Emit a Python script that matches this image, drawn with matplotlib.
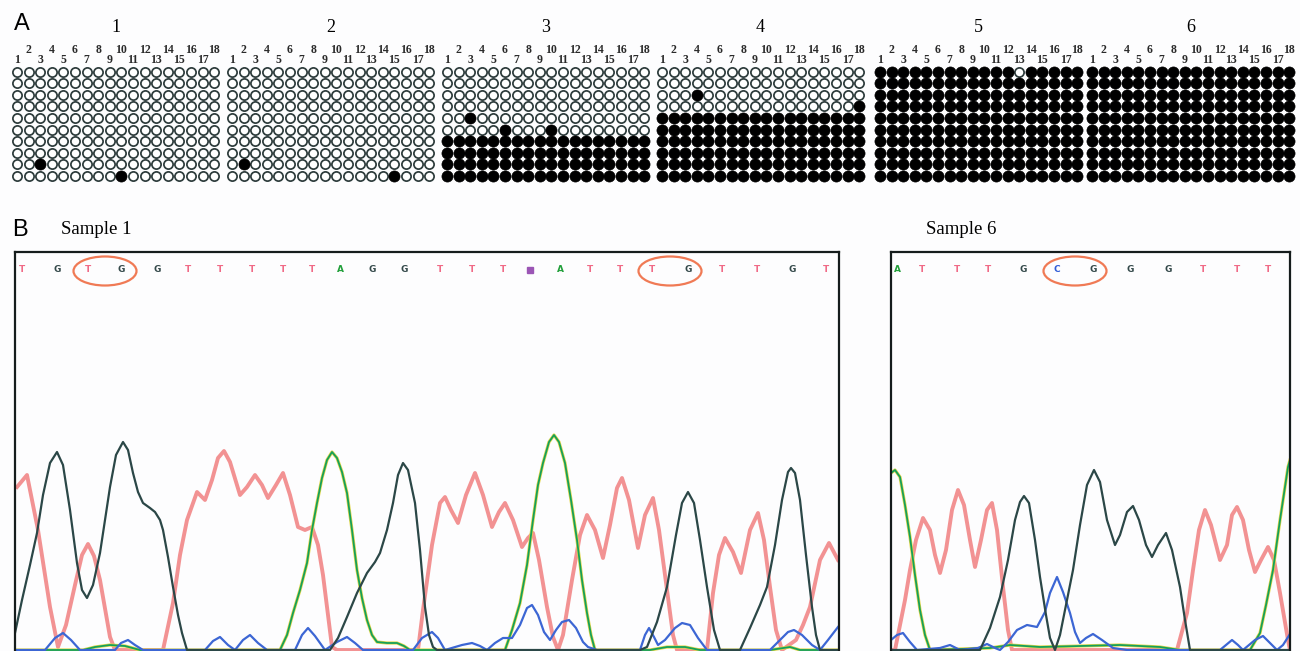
import numpy as np
import matplotlib
matplotlib.use("Agg")
import matplotlib.pyplot as plt
from matplotlib.patches import Ellipse

# ---- panel A: bisulfite clones, 10 clones x 18 CpG sites (1 = methylated)
sample_names = ["1", "2", "3", "4", "5", "6"]
cpg_sites = list(range(1, 19))
empty = "000000000000000000"
full = "111111111111111111"
meth = [
    [empty] * 8 + ["001000000000000000", "000000000100000000"],
    [empty] * 8 + ["010000000000000000", "000000000000001000"],
    [empty] * 4 + ["001000000000000000", "000001000100000000"] + [full] * 4,
    [empty] * 2 + ["000100000000000000", "000000000000000001"] + [full] * 6,
    ["111111111111011111"] + [full] * 9,
    [full] * 10,
]

# ---- panel B: sequencing traces, (scan position, signal)
s1_bases = "TGTGGTTTTTAGGTTTNATTTGTTGT"
s1_pos = [22, 57, 88, 121, 157, 188, 220, 252, 283, 312, 340, 372, 404,
          440, 472, 503, 530, 560, 590, 620, 652, 688, 722, 757, 792, 826]
s1_marked = [105, 670]

s6_bases = "ATTTGCGGGTTT"
s6_pos = [897, 922, 957, 988, 1023, 1057, 1093, 1130, 1168, 1203, 1237, 1268]
s6_marked = [1075]

s1_T = [(17, 163), (27, 175), (38, 120), (50, 43), (58, 3), (66, 25), (75, 65), (82, 95),
        (88, 106), (94, 94), (100, 70), (110, 13), (115, 0), (163, 0), (173, 47), (180, 95),
        (187, 130), (197, 158), (205, 150), (212, 170), (218, 192), (224, 199), (230, 188),
        (240, 155), (247, 163), (255, 175), (262, 165), (268, 152), (276, 165), (283, 177),
        (290, 155), (298, 123), (305, 120), (312, 123), (318, 105), (323, 75), (328, 35),
        (332, 3), (337, 0), (418, 0), (423, 40), (432, 105), (440, 147), (445, 153),
        (451, 140), (458, 127), (466, 155), (475, 177), (483, 155), (492, 123), (499, 138),
        (505, 147), (513, 130), (522, 103), (528, 112), (533, 117), (539, 90), (547, 43),
        (553, 13), (558, 0), (563, 15), (572, 70), (580, 115), (587, 135), (595, 120),
        (603, 92), (610, 125), (617, 162), (622, 172), (629, 150), (638, 102), (645, 135),
        (653, 152), (659, 120), (667, 60), (673, 15), (677, 0), (707, 0), (713, 57),
        (719, 95), (725, 112), (733, 98), (741, 77), (750, 120), (758, 137), (764, 110),
        (770, 63), (776, 20), (782, 0), (796, 10), (803, 25), (810, 43), (820, 90),
        (829, 107), (838, 90)]
s1_G = [(15, 17), (22, 50), (30, 85), (37, 117), (43, 155), (50, 187), (57, 198), (63, 185),
        (70, 140), (77, 87), (82, 60), (87, 52), (93, 65), (100, 97), (105, 130), (110, 163),
        (116, 195), (123, 208), (128, 200), (133, 177), (138, 158), (143, 147), (150, 142),
        (155, 138), (160, 130), (163, 120), (168, 93), (173, 63), (178, 35), (182, 17),
        (187, 0), (330, 0), (338, 12), (347, 33), (357, 57), (367, 77), (375, 88), (380, 97),
        (387, 120), (393, 147), (398, 175), (403, 187), (408, 180), (415, 147), (420, 100),
        (425, 43), (429, 15), (433, 3), (437, 0), (640, 0), (647, 3), (657, 28), (667, 63),
        (676, 115), (682, 147), (688, 158), (694, 147), (700, 110), (707, 63), (714, 20),
        (720, 0), (740, 0), (750, 22), (760, 45), (767, 63), (775, 105), (782, 150),
        (788, 178), (791, 182), (795, 177), (800, 150), (806, 95), (812, 43), (816, 15),
        (820, 0), (838, 0)]
s1_A = [(15, 0), (83, 0), (95, 3), (110, 5), (125, 4), (140, 0), (280, 0), (287, 15),
        (293, 37), (300, 60), (307, 87), (312, 120), (317, 147), (322, 172), (327, 190),
        (332, 198), (337, 192), (342, 178), (347, 157), (352, 120), (357, 80), (362, 52),
        (367, 30), (372, 15), (377, 8), (387, 7), (397, 7), (404, 4), (410, 0), (505, 0),
        (512, 20), (520, 47), (527, 85), (533, 130), (538, 165), (543, 187), (549, 208),
        (554, 215), (559, 208), (565, 187), (571, 150), (577, 110), (582, 70), (587, 37),
        (591, 15), (595, 0), (650, 0), (667, 3), (685, 3), (700, 0), (770, 0), (790, 3),
        (800, 0), (838, 0)]
s1_C = [(15, 0), (45, 0), (55, 12), (63, 17), (71, 10), (80, 0), (115, 0), (121, 7), (128, 10),
        (135, 5), (143, 0), (205, 0), (213, 9), (220, 13), (228, 5), (235, 0), (243, 10),
        (250, 15), (258, 7), (267, 0), (295, 0), (302, 15), (308, 22), (315, 14), (325, 0),
        (337, 8), (347, 13), (355, 7), (363, 0), (413, 0), (422, 12), (432, 18), (438, 12),
        (445, 0), (462, 5), (472, 7), (480, 4), (487, 0), (495, 7), (503, 12), (512, 12),
        (520, 25), (527, 42), (532, 45), (538, 35), (544, 18), (550, 10), (556, 20),
        (562, 28), (569, 30), (576, 22), (583, 8), (588, 3), (597, 0), (640, 0), (645, 15),
        (649, 22), (654, 13), (658, 5), (665, 10), (675, 22), (682, 27), (690, 25),
        (698, 12), (707, 0), (770, 0), (780, 10), (788, 18), (794, 20), (802, 15),
        (812, 5), (820, 0), (828, 10), (838, 23)]

s6_A = [(891, 177), (895, 180), (900, 173), (905, 145), (910, 113), (915, 75), (920, 40),
        (925, 15), (930, 0), (990, 2), (1010, 5), (1040, 3), (1080, 4), (1120, 5),
        (1160, 3), (1180, 0), (1250, 0), (1260, 17), (1266, 45), (1273, 80), (1280, 130),
        (1288, 183), (1290, 190)]
s6_T = [(891, 0), (895, 0), (900, 25), (905, 50), (910, 80), (916, 110), (923, 132),
        (930, 120), (935, 95), (940, 77), (946, 100), (952, 140), (958, 160), (964, 145),
        (970, 110), (975, 83), (981, 110), (987, 140), (992, 147), (997, 120), (1003, 63),
        (1008, 20), (1012, 0), (1177, 0), (1187, 37), (1193, 80), (1199, 120), (1205, 140),
        (1211, 125), (1220, 90), (1227, 105), (1232, 135), (1237, 143), (1243, 130),
        (1249, 100), (1255, 78), (1261, 90), (1268, 103), (1274, 90), (1280, 57),
        (1288, 10), (1290, 0)]
s6_G = [(891, 0), (980, 0), (990, 22), (1000, 53), (1008, 90), (1015, 130), (1020, 148),
        (1024, 154), (1029, 147), (1035, 110), (1040, 73), (1046, 35), (1050, 12),
        (1055, 0), (1060, 15), (1066, 45), (1073, 80), (1080, 125), (1087, 165),
        (1094, 180), (1100, 168), (1107, 130), (1115, 105), (1120, 115), (1127, 138),
        (1133, 144), (1139, 130), (1146, 105), (1152, 93), (1158, 105), (1166, 117),
        (1172, 100), (1180, 63), (1185, 30), (1190, 0), (1290, 0)]
s6_C = [(891, 10), (897, 15), (903, 17), (910, 8), (917, 0), (940, 2), (950, 5), (960, 0),
        (978, 2), (987, 6), (995, 2), (1000, 0), (1008, 8), (1017, 20), (1027, 25),
        (1037, 23), (1045, 38), (1050, 57), (1057, 73), (1063, 58), (1070, 37), (1075, 18),
        (1080, 7), (1086, 12), (1093, 16), (1102, 10), (1113, 2), (1127, 0), (1220, 0),
        (1226, 5), (1232, 10), (1238, 5), (1243, 0), (1255, 10), (1263, 14), (1270, 7),
        (1277, 0), (1283, 5), (1290, 16)]

base_colors = {"T": "#f06a86", "G": "#34494a", "A": "#23a03c", "C": "#2f5bd6", "N": "#9b55b5"}

W, H = 1300, 651
fig = plt.figure(figsize=(13, 6.51), dpi=100)
fig.patch.set_facecolor("#fdfdfe")


def rect(x0, y0, x1, y1):
    return [x0 / W, 1 - y1 / H, (x1 - x0) / W, (y1 - y0) / H]


serif = ["Liberation Serif", "DejaVu Serif"]
sans = ["Liberation Sans", "DejaVu Sans"]

# ---- panel A
fig.text(14 / W, 1 - 24 / H, "A", fontsize=17, family=sans, va="center", ha="left")
grid_left = [17, 232, 447, 662, 880, 1092]
for name, rows, x0 in zip(sample_names, meth, grid_left):
    ax = fig.add_axes(rect(x0 - 5.8, 66, x0 - 5.8 + 208.8, 181.5))
    M = np.array([[int(c) for c in r] for r in rows])
    r0, c0 = np.nonzero(M == 0)
    r1, c1 = np.nonzero(M == 1)
    ax.scatter(c0 + 1, r0 + 1, s=44, facecolor="white", edgecolor="#2c3b3b", linewidths=1.25)
    ax.scatter(c1 + 1, r1 + 1, s=64, facecolor="black", edgecolor="black", linewidths=0.5)
    ax.set_xlim(0.5, 18.5)
    ax.set_ylim(10.5, 0.5)
    ax.axis("off")
    for s in cpg_sites:
        yy = -0.05 if s % 2 else -0.9
        ax.text(s, yy, str(s), fontsize=8.5, family=serif, fontweight="bold", ha="center",
                va="center", color="#2a2a2a", clip_on=False)
    ax.text(9.5, -2.87, name, fontsize=13, family=serif, ha="center", va="center",
            clip_on=False)

# ---- panel B
fig.text(12 / W, 1 - 230 / H, "B", fontsize=17, family=sans, va="center", ha="left")
fig.text(61 / W, 1 - 229 / H, "Sample 1", fontsize=13.5, family=serif, va="center")
fig.text(926 / W, 1 - 229 / H, "Sample 6", fontsize=13.5, family=serif, va="center")


def trace_panel(box, xlim, traces, bases, pos, marked):
    ax = fig.add_axes(rect(*box))
    ax.set_xlim(*xlim)
    ax.set_ylim(-1, 398)
    ax.set_facecolor("#fdfdfe")
    ax.set_xticks([])
    ax.set_yticks([])
    for side in ["left", "top", "right"]:
        ax.spines[side].set_linewidth(1.6)
        ax.spines[side].set_color("#151c1c")
    ax.spines["bottom"].set_visible(False)
    T, A, C, G = traces
    x, y = zip(*T)
    ax.plot(x, y, color="#f07878", lw=2.8, alpha=0.8, solid_joinstyle="round")
    x, y = zip(*A)
    ax.plot(x, y, color="#e2d64a", lw=2.3, solid_joinstyle="round")
    ax.plot(x, y, color="#15a05a", lw=1.3, solid_joinstyle="round")
    x, y = zip(*C)
    ax.plot(x, y, color="#3c66d4", lw=1.6, solid_joinstyle="round")
    x, y = zip(*G)
    ax.plot(x, y, color="#2b4747", lw=1.6, solid_joinstyle="round")
    for b, p in zip(bases, pos):
        if b == "N":
            ax.plot(p, 380, marker="s", ms=5, color=base_colors[b])
        else:
            ax.text(p, 380, b, fontsize=6.5, fontweight="bold", family="DejaVu Sans",
                    color=base_colors[b], ha="center", va="center")
    for m in marked:
        ax.add_patch(Ellipse((m, 379), 63, 29, fill=False, edgecolor="#f07a55", lw=1.6))
    return ax


trace_panel((15, 252, 839, 651), (15, 839), (s1_T, s1_A, s1_C, s1_G), s1_bases, s1_pos, s1_marked)
trace_panel((891, 252, 1290, 651), (891, 1290), (s6_T, s6_A, s6_C, s6_G), s6_bases, s6_pos, s6_marked)

fig.savefig("out.png", dpi=100, facecolor=fig.get_facecolor())
